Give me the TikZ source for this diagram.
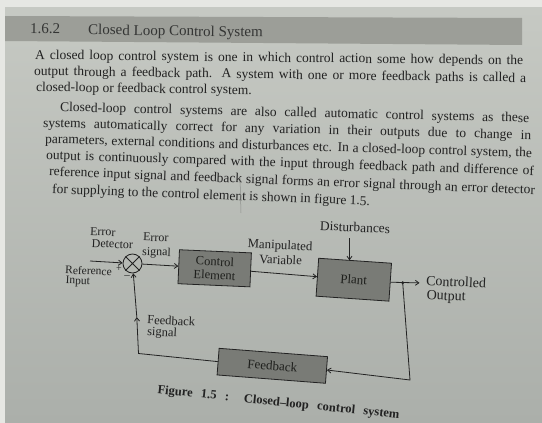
\documentclass[tikz,border=0pt]{standalone}
\usepackage{fontspec}
\setmainfont{Liberation Serif}
\usetikzlibrary{arrows.meta,calc}
\definecolor{ink}{HTML}{222222}
\definecolor{paperA}{HTML}{C6C9C3}
\definecolor{paperB}{HTML}{ABAFAA}
\definecolor{margin}{HTML}{E6E7E3}
\definecolor{band}{HTML}{9C9E98}
\definecolor{boxfill}{HTML}{797B76}
\definecolor{boxink}{HTML}{1E1F1C}

% one line of running text, set along the line from its left to its right end
\newcommand\bodyline[6]{\path (#1,#2) -- (#3,#4) node[bodytext,pos=0,sloped,anchor=mid west] (#5) {#6};}

\begin{document}
\begin{tikzpicture}[x=1pt,y=-1pt,
  bodytext/.style={font=\fontsize{13.5}{15}\selectfont,text=ink,inner sep=0pt},
  headtext/.style={font=\fontsize{15}{17}\selectfont,text=ink!85!band,inner sep=0pt},
  lbl/.style={text=ink,inner sep=0pt,anchor=mid west},
  blk/.style={draw=ink,line width=0.8pt,fill=boxfill,text=boxink,inner sep=0pt,align=center},
  wire/.style={draw=ink,line width=0.8pt},
  arr/.style={wire,-{Straight Barb[length=3.5pt,width=5pt]}},
]
\useasboundingbox (0,0) rectangle (542,423);

% page and section band
\fill[margin] (0,0) rectangle (542,423);
\shade[top color=paperA,bottom color=paperB] (5,7) rectangle (542,423);
\fill[band] (5,16) -- (522,18) -- (522,45) -- (5,41) -- cycle;

\path (30,33.3) -- (60,33.6) node[headtext,pos=0,sloped,anchor=base west] (secnum) {1.6.2};
\path (88,34.5) -- (268,37.2) node[headtext,pos=0,sloped,anchor=base west] (sectitle) {Closed Loop Control System};

% first paragraph
\bodyline{35}{57}{523}{62.5}{p1a}{\makebox[488pt][s]{A closed loop control system is one in which control action some how depends on the}}
\bodyline{34}{73}{526}{80}{p1b}{\makebox[492pt][s]{output through a feedback path. A system with one or more feedback paths is called a}}
\bodyline{36}{89}{526}{96}{p1c}{closed-loop or feedback control system.}

% second paragraph
\bodyline{60}{109}{529}{120}{p2a}{\makebox[469pt][s]{Closed-loop control systems are also called automatic control systems as these}}
\bodyline{43}{125}{531}{137}{p2b}{\makebox[488pt][s]{systems automatically correct for any variation in their outputs due to change in}}
\bodyline{45}{141}{532}{155}{p2c}{\makebox[487pt][s]{parameters, external conditions and disturbances etc. In a closed-loop control system, the}}
\bodyline{46}{157}{534}{173}{p2d}{\makebox[488pt][s]{output is continuously compared with the input through feedback path and difference of}}
\bodyline{49}{173.5}{535}{192}{p2e}{\makebox[486pt][s]{reference input signal and feedback signal forms an error signal through an error detector}}
\bodyline{52}{191}{535}{209.4}{p2f}{for supplying to the control element is shown in figure 1.5.}

% crease in the paper
\draw[ink!35!paperA,line width=0.5pt] (240,178) -- (241,213);

% blocks
\node[circle,draw=ink,line width=0.8pt,minimum size=19pt,inner sep=0pt] (sum) at (132.5,263.5) {};
\draw[wire] (sum.north west) -- (sum.south east) (sum.north east) -- (sum.south west);
\node[blk,minimum width=72pt,minimum height=34pt,rotate=-2.5,font=\fontsize{12.5}{13.5}\selectfont] (ctrl) at (214.7,268.3) {Control\\Element};
\node[blk,minimum width=73pt,minimum height=38pt,rotate=-3.9,font=\fontsize{13}{14}\selectfont] (plant) at (353.8,279.7) {Plant};
\node[blk,minimum width=108.7pt,minimum height=26.7pt,rotate=-4.4,font=\fontsize{13}{14}\selectfont] (fb) at (272.3,365.8) {Feedback};

% free ends and bends of the connectors
\coordinate (refin) at (90,261);
\coordinate (dtop) at (349.5,238);
\coordinate (br) at (402.7,282.7);
\coordinate (outend) at (419.5,282.9);
\coordinate (rc) at (410,380);
\coordinate (lc) at (138.5,353.5);
\coordinate (fbmid) at (136.8,317);

% connectors
\draw[arr] (refin) -- (sum);
\draw[arr] (sum) -- (ctrl);
\draw[arr] (ctrl) -- (plant);
\draw[arr] (dtop) -- (dtop |- plant.north);
\draw[arr] (plant.east) -- (outend);
\fill[ink] (br) circle (1.6);
\draw[arr] (br) -- (rc) -- (fb.east);
\draw[arr] (fb.west) -- (lc) -- (fbmid);
\draw[arr] (fbmid) -- (sum);

% labels
\node[lbl,font=\fontsize{12}{12}\selectfont,rotate=-2] (edA) at (90,233) {Error};
\node[lbl,font=\fontsize{12}{12}\selectfont,rotate=-2] (edB) at (91.5,245) {Detector};
\node[lbl,font=\fontsize{11.5}{12}\selectfont,rotate=-2] (riA) at (65,271.5) {Reference};
\node[lbl,font=\fontsize{11.5}{12}\selectfont,rotate=-2] (riB) at (65.5,281.5) {Input};
\node[lbl,font=\fontsize{10}{10}\selectfont,anchor=center] (plus) at (119,268.5) {+};
\node[lbl,font=\fontsize{11}{11}\selectfont,anchor=center] (minus) at (127,277) {–};
\node[lbl,font=\fontsize{12}{12}\selectfont,rotate=-2] (esA) at (143,238.5) {Error};
\node[lbl,font=\fontsize{12}{12}\selectfont,rotate=-2] (esB) at (142,253) {signal};
\node[lbl,font=\fontsize{12.8}{13}\selectfont,anchor=mid,rotate=-2.5] (mvA) at (280,247) {Manipulated};
\node[lbl,font=\fontsize{12.8}{13}\selectfont,anchor=mid,rotate=-2.5] (mvB) at (280.5,262) {Variable};
\node[lbl,font=\fontsize{13.4}{14}\selectfont,anchor=mid,rotate=-2.5] (dist) at (355,229.5) {Disturbances};
\node[lbl,font=\fontsize{14}{14}\selectfont,rotate=-2.5] (coA) at (426,283) {Controlled};
\node[lbl,font=\fontsize{14}{14}\selectfont,rotate=-2.5] (coB) at (426.5,297) {Output};
\node[lbl,font=\fontsize{12.5}{13}\selectfont,rotate=-3] (fsA) at (147,321.5) {Feedback};
\node[lbl,font=\fontsize{12.5}{13}\selectfont,rotate=-3] (fsB) at (147,333) {signal};

% caption
\node[text=ink,inner sep=0pt,font=\bfseries\fontsize{12.5}{14}\selectfont,rotate=-5.9] (cap) at (278.5,403) {\makebox[243pt][s]{Figure 1.5 : Closed--loop control system}};
\end{tikzpicture}
\end{document}
